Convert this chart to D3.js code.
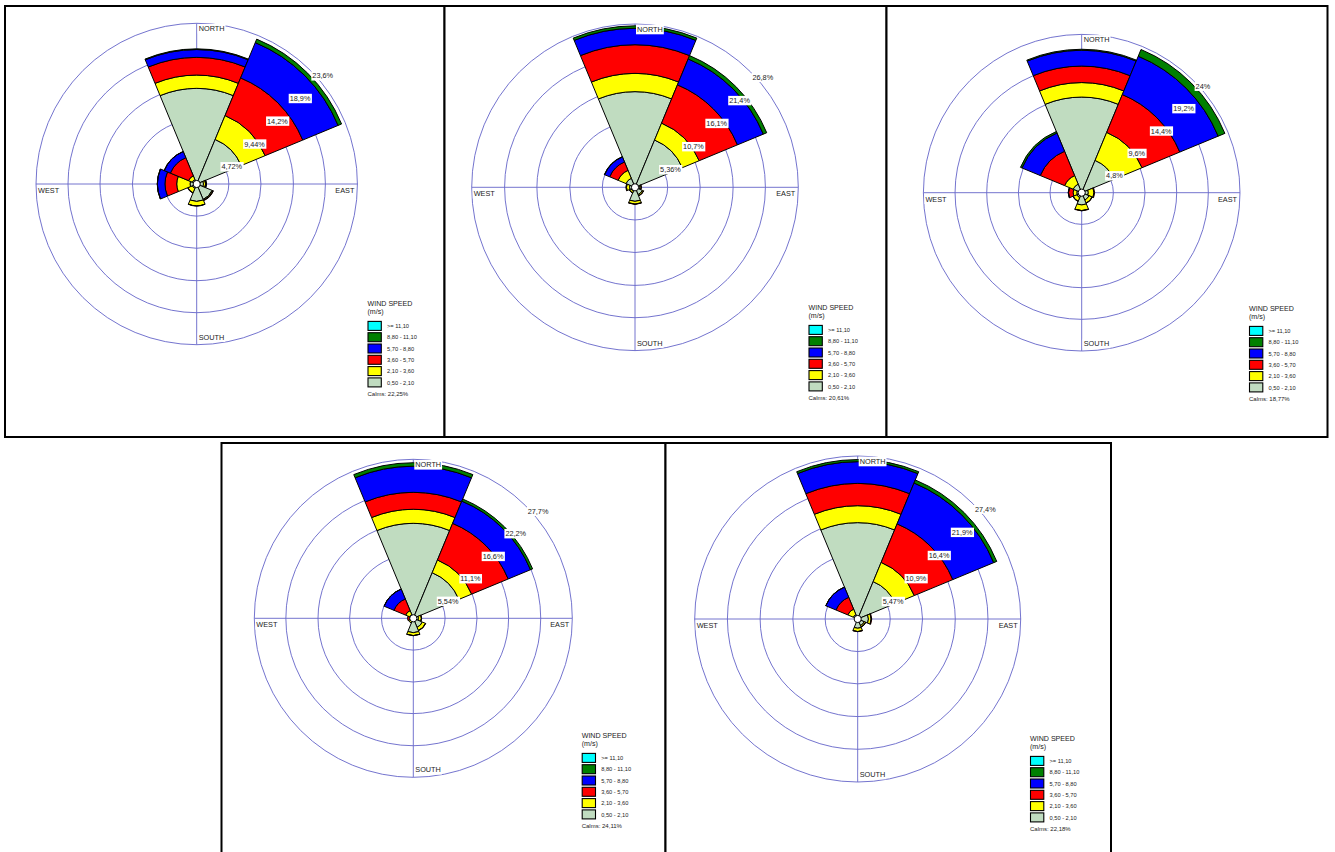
<!DOCTYPE html>
<html>
<head>
<meta charset="utf-8">
<script src="https://cdn.jsdelivr.net/npm/d3@7"></script>
<style>
  body { margin: 0; background: #fff; }
  svg { display: block; }
</style>
</head>
<body>
<svg id="chart" width="1335" height="852"></svg>
<script>
// ---- Categories --------------------------------------------------------
const directions = ["N", "NE", "E", "SE", "S", "SW", "W", "NW"];
const directionAngles = [0, 45, 90, 135, 180, 225, 270, 315];
const compassLabels = ["NORTH", "EAST", "SOUTH", "WEST"];
// speed classes, lowest first (stacking order from the centre outwards)
const speedClasses = ["0,50 - 2,10", "2,10 - 3,60", "3,60 - 5,70", "5,70 - 8,80", "8,80 - 11,10", ">= 11,10"];

// ---- Frequencies (%) by direction [N, NE, E, SE, S, SW, W, NW] -------------
// Rose 1
const rose1_050_210 = [14.05, 7.08, 1.00, 2.45, 2.55, 0.70, 0.98, 0.70];
const rose1_210_360 = [1.95, 3.80, 0.30, 0.15, 0.65, 0.70, 1.95, 0.60];
const rose1_360_570 = [2.60, 5.98, 0.10, 0.05, 0.03, 0.05, 1.72, 2.88];
const rose1_570_880 = [1.15, 5.62, 0.05, 0, 0, 0, 1.11, 0.98];
const rose1_880_1110 = [0.10, 0.55, 0, 0, 0, 0, 0.02, 0.02];
const rose1_1110 = [0, 0, 0, 0, 0, 0, 0, 0];
// Rose 2
const rose2_050_210 = [15.70, 8.40, 0.80, 1.30, 2.30, 0.70, 0.90, 1.60];
const rose2_210_360 = [3.00, 3.00, 0.20, 0.20, 0.45, 0.30, 0.50, 1.40];
const rose2_360_570 = [4.70, 6.80, 0.05, 0.05, 0.05, 0.02, 0.10, 1.50];
const rose2_570_880 = [2.70, 4.60, 0, 0, 0, 0, 0, 0.90];
const rose2_880_1110 = [0.40, 0.60, 0, 0, 0, 0, 0, 0.05];
const rose2_1110 = [0, 0, 0, 0, 0, 0, 0, 0];
// Rose 3
const rose3_050_210 = [14.50, 5.30, 1.00, 1.20, 1.85, 0.80, 0.75, 1.40];
const rose3_210_360 = [2.20, 4.60, 0.85, 0.50, 0.85, 0.60, 0.55, 1.40];
const rose3_360_570 = [2.50, 6.20, 0.10, 0.05, 0.05, 0.05, 0.70, 4.00];
const rose3_570_880 = [2.40, 6.30, 0, 0, 0, 0, 0.05, 3.00];
const rose3_880_1110 = [0.15, 1.10, 0, 0, 0, 0, 0, 0.25];
const rose3_1110 = [0, 0, 0, 0, 0, 0, 0, 0];
// Rose 4
const rose4_050_210 = [16.55, 8.60, 0.90, 1.70, 2.50, 0.50, 0.40, 0.70];
const rose4_210_360 = [2.45, 2.40, 0.50, 0.60, 0.50, 0.40, 0.30, 0.75];
const rose4_360_570 = [2.95, 6.90, 0.05, 0.05, 0.03, 0, 0.30, 2.20];
const rose4_570_880 = [4.55, 4.20, 0, 0, 0, 0, 0, 1.85];
const rose4_880_1110 = [0.60, 0.40, 0, 0, 0, 0, 0, 0.02];
const rose4_1110 = [0, 0, 0, 0, 0, 0, 0, 0];
// Rose 5
const rose5_050_210 = [16.20, 6.80, 1.80, 1.20, 1.55, 0.30, 0.20, 0.80];
const rose5_210_360 = [2.85, 3.50, 0.45, 0.25, 0.55, 0.10, 0.10, 1.00];
const rose5_360_570 = [3.75, 7.00, 0.10, 0.02, 0.03, 0, 0, 2.15];
const rose5_570_880 = [3.65, 7.45, 0, 0, 0, 0, 0, 1.85];
const rose5_880_1110 = [0.35, 0.55, 0, 0, 0, 0, 0, 0.02];
const rose5_1110 = [0, 0, 0, 0, 0, 0, 0, 0];

// ---- Ring tick values (%) and calms (%) ----------------------------------
const ringTicks1 = [4.72, 9.44, 14.2, 18.9, 23.6];
const ringTicks2 = [5.36, 10.7, 16.1, 21.4, 26.8];
const ringTicks3 = [4.8, 9.6, 14.4, 19.2, 24];
const ringTicks4 = [5.54, 11.1, 16.6, 22.2, 27.7];
const ringTicks5 = [5.47, 10.9, 16.4, 21.9, 27.4];
const calms = [22.25, 20.61, 18.77, 24.11, 22.18];

// ---- Styles ----------------------------------------------------------------
const speedColors = ["#C0DCC0", "#FFFF00", "#FF0000", "#0000FF", "#008000", "#00FFFF"];
const ringColor = "#6464C8";
const textColor = "#222";
const fontFamily = "'Liberation Sans', Arial, Helvetica, sans-serif";

// ---- Panel layout (frame, rose centre / radius, legend anchor) -------------
const layout = [
  { x: 5,     y: 6,   w: 439.5, h: 431, cx: 196.7,  cy: 184,   R: 160.7, lx: 367.5,  ly: 303.5 },
  { x: 444.5, y: 6,   w: 442,   h: 431, cx: 635,    cy: 187.3, R: 163.3, lx: 808.5,  ly: 307.5 },
  { x: 886.5, y: 6,   w: 441,   h: 431, cx: 1081.7, cy: 192.7, R: 158.3, lx: 1249,   ly: 308.5 },
  { x: 221.5, y: 443, w: 444,   h: 420, cx: 413.3,  cy: 618.3, R: 159,   lx: 581.7,  ly: 735.5 },
  { x: 665.5, y: 443, w: 445.5, h: 420, cx: 857.7,  cy: 619,   R: 163,   lx: 1030,   ly: 738.5 }
];

// Table of roses assembled from the arrays above
const roses = [
  { ticks: ringTicks1, series: [rose1_050_210, rose1_210_360, rose1_360_570, rose1_570_880, rose1_880_1110, rose1_1110] },
  { ticks: ringTicks2, series: [rose2_050_210, rose2_210_360, rose2_360_570, rose2_570_880, rose2_880_1110, rose2_1110] },
  { ticks: ringTicks3, series: [rose3_050_210, rose3_210_360, rose3_360_570, rose3_570_880, rose3_880_1110, rose3_1110] },
  { ticks: ringTicks4, series: [rose4_050_210, rose4_210_360, rose4_360_570, rose4_570_880, rose4_880_1110, rose4_1110] },
  { ticks: ringTicks5, series: [rose5_050_210, rose5_210_360, rose5_360_570, rose5_570_880, rose5_880_1110, rose5_1110] }
];

const locale = d3.formatLocale({ decimal: ",", thousands: ".", grouping: [3], currency: ["", ""] });
const fmtTick = locale.format(".3~r");
const fmtCalm = locale.format(".2f");
const rad = Math.PI / 180;
const halfWidth = 22.5;

const svg = d3.select("#chart");

// white box behind a text element
function backWithBox(parent, textSel, padX, padY) {
  const b = textSel.node().getBBox();
  parent.insert("rect", () => textSel.node())
    .attr("x", b.x - padX).attr("y", b.y - padY)
    .attr("width", b.width + 2 * padX).attr("height", b.height + 2 * padY)
    .attr("fill", "#fff");
}

roses.forEach((rose, i) => {
  const L = layout[i];
  const panel = svg.append("g").attr("class", "panel");

  panel.append("rect")
    .attr("x", L.x).attr("y", L.y).attr("width", L.w).attr("height", L.h)
    .attr("fill", "#fff").attr("stroke", "#000").attr("stroke-width", 2);

  const maxTick = rose.ticks[rose.ticks.length - 1];
  const r = d3.scaleLinear().domain([0, maxTick]).range([0, L.R]);

  const g = panel.append("g").attr("transform", `translate(${L.cx},${L.cy})`);

  // rings and cross axes
  g.selectAll("circle.ring").data(rose.ticks).join("circle")
    .attr("class", "ring").attr("r", d => r(d))
    .attr("fill", "none").attr("stroke", ringColor).attr("stroke-width", 0.9);
  g.append("line").attr("x1", 0).attr("x2", 0).attr("y1", -r(maxTick)).attr("y2", r(maxTick))
    .attr("stroke", ringColor).attr("stroke-width", 0.9);
  g.append("line").attr("y1", 0).attr("y2", 0).attr("x1", -r(maxTick)).attr("x2", r(maxTick))
    .attr("stroke", ringColor).attr("stroke-width", 0.9);

  // stacked petals
  const segments = [];
  directions.forEach((dir, k) => {
    let cum = 0;
    rose.series.forEach((vals, b) => {
      const v = vals[k];
      if (v > 0) segments.push({ k, b, v0: cum, v1: cum + v });
      cum += v;
    });
  });
  const arc = d3.arc();
  g.selectAll("path.seg").data(segments).join("path")
    .attr("class", "seg")
    .attr("d", d => arc({
      innerRadius: r(d.v0), outerRadius: r(d.v1),
      startAngle: (directionAngles[d.k] - halfWidth) * rad,
      endAngle: (directionAngles[d.k] + halfWidth) * rad
    }))
    .attr("fill", d => speedColors[d.b])
    .attr("stroke", "#000").attr("stroke-width", 1).attr("stroke-linejoin", "miter");

  // calm circle
  g.append("circle").attr("r", 3.6).attr("fill", "#fff").attr("stroke", "#000").attr("stroke-width", 1);

  // compass labels
  const R = r(maxTick);
  const compassPos = [
    { x: 2, y: -R + 8, anchor: "start" },
    { x: R - 3, y: 9, anchor: "end" },
    { x: 2, y: R - 5, anchor: "start" },
    { x: -R + 2, y: 9, anchor: "start" }
  ];
  compassLabels.forEach((lab, j) => {
    const t = g.append("text")
      .attr("x", compassPos[j].x).attr("y", compassPos[j].y)
      .attr("text-anchor", compassPos[j].anchor)
      .attr("font-family", fontFamily).attr("font-size", 7.3).attr("fill", textColor)
      .text(lab);
    backWithBox(g, t, 1, 0.3);
  });

  // ring value labels along the NE diagonal
  rose.ticks.forEach(tv => {
    const px = r(tv) * Math.sin(45 * rad);
    const py = -r(tv) * Math.cos(45 * rad);
    const t = g.append("text")
      .attr("x", px + 2).attr("y", py + 8)
      .attr("font-family", fontFamily).attr("font-size", 7.3).attr("fill", textColor)
      .text(fmtTick(tv) + "%");
    backWithBox(g, t, 1, 0.2);
  });

  // legend
  const lg = panel.append("g").attr("transform", `translate(${L.lx},${L.ly})`);
  lg.append("text").attr("x", 0).attr("y", 2.6)
    .attr("font-family", fontFamily).attr("font-size", 7.1).attr("fill", textColor)
    .text("WIND SPEED");
  lg.append("text").attr("x", 0).attr("y", 10.8)
    .attr("font-family", fontFamily).attr("font-size", 7.1).attr("fill", textColor)
    .text("(m/s)");
  const legendOrder = d3.range(speedClasses.length).reverse();
  const rowY = d3.scalePoint().domain(legendOrder).range([22.4, 22.4 + 5 * 11.3]);
  legendOrder.forEach(b => {
    lg.append("rect")
      .attr("x", 0.5).attr("y", rowY(b) - 4.5).attr("width", 13.3).attr("height", 9)
      .attr("fill", speedColors[b]).attr("stroke", "#000").attr("stroke-width", 1.1);
    lg.append("text").attr("x", 19.5).attr("y", rowY(b) + 2.1)
      .attr("font-family", fontFamily).attr("font-size", 5.7).attr("fill", textColor)
      .text(speedClasses[b]);
  });
  lg.append("text").attr("x", 0).attr("y", 92.2)
    .attr("font-family", fontFamily).attr("font-size", 6).attr("fill", textColor)
    .text("Calms: " + fmtCalm(calms[i]) + "%");
});
</script>
</body>
</html>
